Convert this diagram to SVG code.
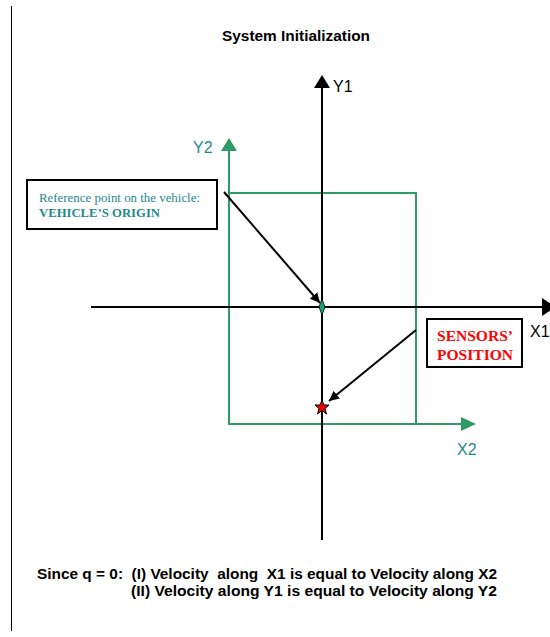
<svg xmlns="http://www.w3.org/2000/svg" width="550" height="637" viewBox="0 0 550 637">
<style>
.ax{stroke:#000;stroke-width:2;fill:none}
.gax{stroke:#2e9a66;stroke-width:2;fill:none}
.lbl{font-family:"Liberation Sans",Arial,sans-serif;font-size:16px}
.bt{font-family:"Liberation Sans",Arial,sans-serif;font-size:14px;font-weight:bold;fill:#000}
.ser{font-family:"Liberation Serif","Times New Roman",serif}
</style>
<defs>
<marker id="ah" viewBox="0 0 10 10" refX="10" refY="5" markerWidth="5" markerHeight="5" orient="auto" markerUnits="strokeWidth">
<path d="M0,0 L10,5 L0,10 z" fill="#000"/>
</marker>
</defs>
<rect width="550" height="637" fill="#fff"/>
<line x1="11.5" y1="6" x2="11.5" y2="631" stroke="#000" stroke-width="1"/>
<g id="title"><text x="296" y="41" text-anchor="middle" class="bt" style="font-size:14.5px" textLength="148" lengthAdjust="spacingAndGlyphs">System Initialization</text></g>

<g id="frame2">
<rect x="229" y="193" width="187" height="231" class="gax"/>
<line x1="229" y1="150" x2="229" y2="193" class="gax"/>
<path d="M221,151 L229,138 L237,151 z" fill="#2e9a66"/>
<line x1="416" y1="424" x2="462" y2="424" class="gax"/>
<path d="M461,417 L476,424 L461,431 z" fill="#2e9a66"/>
<text x="193" y="153" class="lbl" fill="#1f8a8a">Y2</text>
<text x="457" y="455" class="lbl" fill="#1f8a8a">X2</text>
</g>

<g id="frame1">
<line x1="322" y1="86" x2="322" y2="540" class="ax"/>
<path d="M314,88 L322,75 L330,88 z" fill="#000"/>
<line x1="91" y1="307" x2="545" y2="307" class="ax"/>
<path d="M542,298 L556,307 L542,316 z" fill="#000"/>
<text x="333" y="92" class="lbl" fill="#000">Y1</text>
<text x="530" y="337" class="lbl" fill="#000">X1</text>
</g>

<g id="origin">
<path d="M322,299 L325,307 L322,315 L319,307 z" fill="#1aa37a" stroke="#000" stroke-width="0.8"/>
</g>

<g id="sensor">
<path d="M322,400 L324,405 L329,405 L325,408.5 L326.5,414 L322,410.5 L317.5,414 L319,408.5 L315,405 L320,405 z" fill="#e00" stroke="#000" stroke-width="1"/>
</g>

<g id="refbox">
<rect x="27" y="180" width="190" height="49" fill="#fff" stroke="#000" stroke-width="2"/>
<text x="39" y="202" class="ser" font-size="12.5" fill="#1f8a8a" textLength="161" lengthAdjust="spacingAndGlyphs">Reference point on the vehicle:</text>
<text x="39" y="217" class="ser" font-size="12.5" font-weight="bold" fill="#1f8a8a" textLength="121" lengthAdjust="spacingAndGlyphs">VEHICLE’S ORIGIN</text>
</g>

<g id="sensorbox">
<rect x="427" y="319" width="95" height="48" fill="#fff" stroke="#000" stroke-width="2"/>
<text x="475" y="341" text-anchor="middle" class="ser" font-size="15" font-weight="bold" fill="#f00" textLength="76" lengthAdjust="spacingAndGlyphs">SENSORS’</text>
<text x="475" y="360" text-anchor="middle" class="ser" font-size="15" font-weight="bold" fill="#f00" textLength="76" lengthAdjust="spacingAndGlyphs">POSITION</text>
</g>

<g id="connectors">
<line x1="224" y1="192" x2="320" y2="303" stroke="#000" stroke-width="2" marker-end="url(#ah)"/>
<line x1="416" y1="330" x2="329" y2="401" stroke="#000" stroke-width="2" marker-end="url(#ah)"/>
</g>

<g id="note">
<text x="37" y="579" class="bt" xml:space="preserve" textLength="460" lengthAdjust="spacingAndGlyphs">Since q = 0:  (I) Velocity  along  X1 is equal to Velocity along X2</text>
<text x="131" y="596" class="bt" textLength="366" lengthAdjust="spacingAndGlyphs">(II) Velocity along Y1 is equal to Velocity along Y2</text>
</g>
</svg>
